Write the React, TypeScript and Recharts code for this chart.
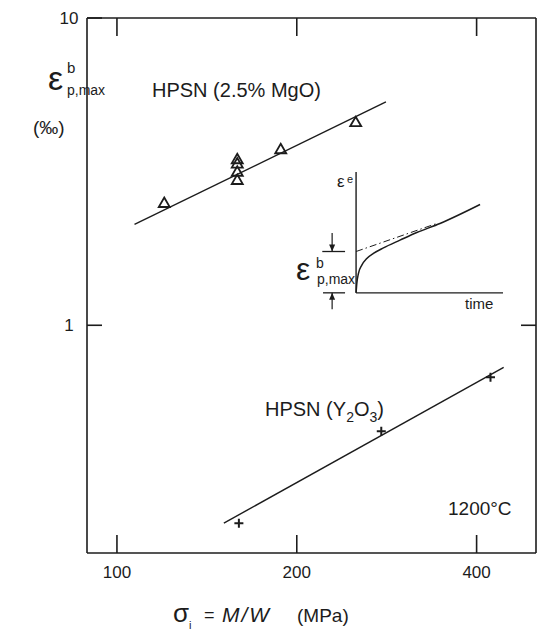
import React from 'react';
import { ComposedChart, Line, Scatter, XAxis, YAxis, ReferenceLine } from 'recharts';

const FONT = '"Liberation Sans", Arial, sans-serif';
const INK = '#1c1c1c';

// sigma_i (MPa) vs eps^b_p,max (per mille), 1200 C
const mgoPoints = [
    { x: 120, y: 2.5 },
    { x: 159, y: 2.97 },
    { x: 159, y: 3.16 },
    { x: 159, y: 3.36 },
    { x: 159, y: 3.47 },
    { x: 188, y: 3.74 },
    { x: 251, y: 4.58 },
];
const mgoFit = [
    { x: 107, y: 2.13 },
    { x: 282, y: 5.33 },
];
const y2o3Points = [
    { x: 160, y: 0.227 },
    { x: 277, y: 0.452 },
    { x: 422, y: 0.677 },
];
const y2o3Fit = [
    { x: 151, y: 0.227 },
    { x: 444, y: 0.73 },
];

const xTicks = [100, 200, 400];
const yTicks = [1, 10];
const X_DOMAIN = [89.1, 502.9];
const Y_DOMAIN = [0.1815, 10];

// inset sketch: strain vs time, arbitrary units
const creepCurve = [
    { t: 0, e: 0 },
    { t: 0.05, e: 0.78 },
    { t: 0.16, e: 1.6 },
    { t: 0.39, e: 2.29 },
    { t: 0.73, e: 2.84 },
    { t: 1.18, e: 3.26 },
    { t: 1.86, e: 3.72 },
    { t: 2.99, e: 4.36 },
    { t: 4.13, e: 4.99 },
    { t: 5.71, e: 5.74 },
    { t: 8.44, e: 7.31 },
];
const tangentLine = [
    { t: 0, e: 3.42 },
    { t: 5.4, e: 5.7 },
];
const arrowDown = [
    { t: -1.63, e: 4.96 },
    { t: -1.63, e: 3.42 },
];
const arrowUp = [
    { t: -1.63, e: -1.35 },
    { t: -1.63, e: 0 },
];
const arrowHeads = [
    { t: -1.63, e: 3.42, dir: 'down' },
    { t: -1.63, e: 0, dir: 'up' },
];

const axisStyle = { stroke: INK, strokeWidth: 1.6 };

const Triangle = (props: any) => {
    const { cx, cy } = props;
    return (
        <path
            d={`M${cx},${cy - 5.5}L${cx + 5.5},${cy + 4}L${cx - 5.5},${cy + 4}Z`}
            fill="none"
            stroke={INK}
            strokeWidth={1.8}
        />
    );
};

const Plus = (props: any) => {
    const { cx, cy } = props;
    return (
        <path
            d={`M${cx - 4.5},${cy}H${cx + 4.5}M${cx},${cy - 4.5}V${cy + 4.5}`}
            stroke={INK}
            strokeWidth={2}
        />
    );
};

const ArrowHead = (props: any) => {
    const { cx, cy, payload } = props;
    const s = payload.dir === 'down' ? -1 : 1;
    return <path d={`M${cx},${cy}L${cx - 3},${cy + s * 7}L${cx + 3},${cy + s * 7}Z`} fill={INK} />;
};

const Txt = ({ x, y, size, children, italic, spacing }: any) => (
    <text
        x={x}
        y={y}
        fontSize={size}
        fontFamily={FONT}
        fill={INK}
        fontStyle={italic ? 'italic' : 'normal'}
        letterSpacing={spacing || 0}
    >
        {children}
    </text>
);

const Inset = () => (
    <ComposedChart width={191} height={145} margin={{ top: 0, right: 0, bottom: 0, left: 0 }}>
        <XAxis type="number" dataKey="t" domain={[-3, 10]} hide allowDataOverflow />
        <YAxis type="number" dataKey="e" domain={[-2, 10]} hide allowDataOverflow />
        <ReferenceLine segment={[{ x: 0, y: 0 }, { x: 0, y: 10 }]} stroke={INK} strokeWidth={1.4} />
        <ReferenceLine segment={[{ x: 0, y: 0 }, { x: 10, y: 0 }]} stroke={INK} strokeWidth={1.4} />
        <ReferenceLine segment={[{ x: -2.3, y: 3.42 }, { x: -0.75, y: 3.42 }]} stroke={INK} strokeWidth={1.3} />
        <ReferenceLine segment={[{ x: -2.25, y: 0 }, { x: -0.75, y: 0 }]} stroke={INK} strokeWidth={1.3} />
        <Line data={creepCurve} dataKey="e" type="monotone" stroke={INK} strokeWidth={1.5} dot={false} isAnimationActive={false} />
        <Line data={tangentLine} dataKey="e" stroke={INK} strokeWidth={1} strokeDasharray="7 3 1.5 3" dot={false} isAnimationActive={false} />
        <Line data={arrowDown} dataKey="e" stroke={INK} strokeWidth={1.2} dot={false} isAnimationActive={false} />
        <Line data={arrowUp} dataKey="e" stroke={INK} strokeWidth={1.2} dot={false} isAnimationActive={false} />
        <Scatter data={arrowHeads} dataKey="e" shape={ArrowHead} isAnimationActive={false} />
    </ComposedChart>
);

export default function App() {
    return (
        <div style={{ position: 'absolute', left: 0, top: 0, width: 538, height: 631, background: '#fff' }}>
            <ComposedChart width={538} height={631} margin={{ top: 17, right: 1, bottom: 48, left: 47 }}>
                <XAxis
                    type="number"
                    dataKey="x"
                    scale="log"
                    domain={X_DOMAIN}
                    allowDataOverflow
                    ticks={xTicks}
                    interval={0}
                    height={30}
                    tickSize={-18}
                    tickMargin={31}
                    axisLine={axisStyle}
                    tickLine={axisStyle}
                    tick={{ fontSize: 17, fill: INK, fontFamily: FONT }}
                />
                <XAxis
                    xAxisId="top"
                    orientation="top"
                    type="number"
                    dataKey="x"
                    scale="log"
                    domain={X_DOMAIN}
                    allowDataOverflow
                    ticks={xTicks}
                    interval={0}
                    height={1}
                    tickSize={-18}
                    axisLine={axisStyle}
                    tickLine={axisStyle}
                    tickFormatter={() => ''}
                />
                <YAxis
                    type="number"
                    dataKey="y"
                    scale="log"
                    domain={Y_DOMAIN}
                    allowDataOverflow
                    ticks={yTicks}
                    interval={0}
                    width={40}
                    tickSize={-15}
                    tickMargin={33}
                    axisLine={axisStyle}
                    tickLine={axisStyle}
                    tick={{ fontSize: 17, fill: INK, fontFamily: FONT, textAnchor: 'middle' }}
                />
                <YAxis
                    yAxisId="right"
                    orientation="right"
                    type="number"
                    dataKey="y"
                    scale="log"
                    domain={Y_DOMAIN}
                    allowDataOverflow
                    ticks={[1]}
                    interval={0}
                    width={1}
                    tickSize={-15}
                    axisLine={axisStyle}
                    tickLine={axisStyle}
                    tickFormatter={() => ''}
                />
                {/* invisible copy so the top/right frame axes get drawn */}
                <Line
                    xAxisId="top"
                    yAxisId="right"
                    data={mgoFit}
                    dataKey="y"
                    stroke="none"
                    dot={false}
                    isAnimationActive={false}
                />
                <Line data={mgoFit} dataKey="y" stroke={INK} strokeWidth={1.4} dot={false} isAnimationActive={false} />
                <Line data={y2o3Fit} dataKey="y" stroke={INK} strokeWidth={1.4} dot={false} isAnimationActive={false} />
                <Scatter data={mgoPoints} dataKey="y" shape={Triangle} isAnimationActive={false} />
                <Scatter data={y2o3Points} dataKey="y" shape={Plus} isAnimationActive={false} />
            </ComposedChart>

            <div style={{ position: 'absolute', left: 312, top: 172 }}>
                <Inset />
            </div>

            <svg width={538} height={631} style={{ position: 'absolute', left: 0, top: 0, pointerEvents: 'none' }}>
                <Txt x={152} y={97} size={20}>HPSN (2.5% MgO)</Txt>
                <Txt x={265} y={416} size={20}>
                    HPSN (Y<tspan fontSize={14} dy={6}>2</tspan>
                    <tspan dy={-6}>O</tspan>
                    <tspan fontSize={14} dy={6}>3</tspan>
                    <tspan dy={-6}>)</tspan>
                </Txt>
                <Txt x={448} y={515} size={19}>1200°C</Txt>

                <Txt x={48} y={90} size={34}>ε</Txt>
                <Txt x={67} y={73} size={15}>b</Txt>
                <Txt x={67} y={95} size={14}>p,max</Txt>
                <Txt x={33} y={134} size={19}>(‰)</Txt>

                <Txt x={173} y={622} size={26}>σ</Txt>
                <Txt x={189} y={629} size={11}>i</Txt>
                <Txt x={204} y={621} size={18}>=</Txt>
                <Txt x={222} y={622} size={21} italic spacing={2}>
                    M/W
                </Txt>
                <Txt x={297} y={622} size={19}>(MPa)</Txt>

                <Txt x={337} y={187} size={17}>ε</Txt>
                <Txt x={347} y={183} size={11}>e</Txt>
                <Txt x={465} y={309} size={15}>time</Txt>
                <Txt x={296} y={280} size={32}>ε</Txt>
                <Txt x={316} y={268} size={14}>b</Txt>
                <Txt x={317} y={284} size={14}>p,max</Txt>
            </svg>
        </div>
    );
}
